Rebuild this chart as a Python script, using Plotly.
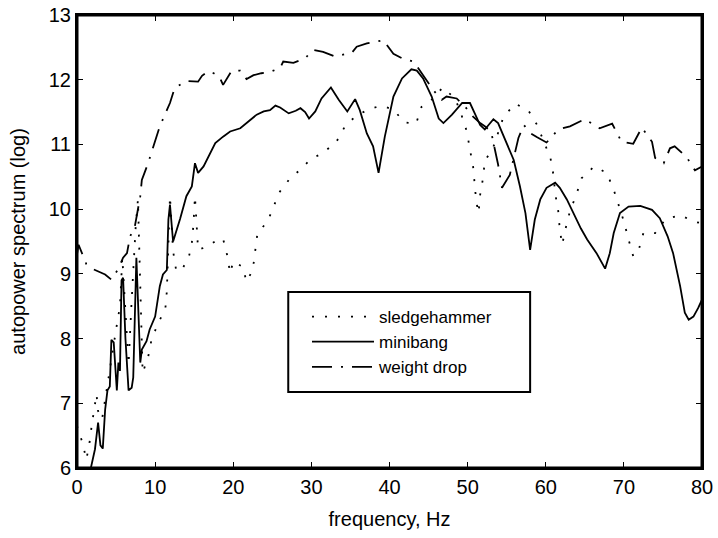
import plotly.graph_objects as go

# ---- data ----
sledge_f = [0.0, 0.7, 1.2, 1.6, 1.9, 2.2, 2.5, 2.7, 3.2, 3.8, 4.1, 4.6, 5.2, 5.5, 5.8, 6.2, 6.6, 7.0,
            7.5, 7.8, 8.1, 8.4, 9.1, 9.5, 10.3, 11.3, 11.5, 11.9, 12.3, 12.7, 13.4, 14.3, 14.7, 14.9,
            15.1, 15.5, 16.6, 18.2, 18.7, 19.2, 19.6, 20.0, 21.2, 21.7, 22.5, 22.8, 23.1, 24.4, 25.1,
            25.9, 27.3, 28.5, 29.9, 31.5, 33.2, 34.3, 35.7, 37.3, 38.9, 40.5, 41.9, 43.4, 44.1, 45.6,
            46.8, 48.4, 49.2, 49.9, 50.3, 50.7, 51.1, 51.4, 51.6, 52.0, 52.2, 53.1, 54.6, 56.1, 57.8,
            58.9, 60.6, 61.0, 61.2, 61.6, 61.8, 62.1, 62.5, 63.1, 63.9, 64.6, 66.2, 67.8, 68.7, 69.3,
            70.0, 70.6, 71.2, 71.9, 72.5, 74.0, 75.3, 77.2, 78.9, 80.0]
sledge_v = [6.65, 6.39, 6.13, 6.39, 6.67, 6.93, 7.14, 6.88, 6.75, 7.21, 7.47, 7.83, 8.29, 8.5, 9.25, 8.4, 7.6, 8.6,
            9.7, 10.15, 8.6, 7.47, 7.71, 7.96, 8.22, 8.45, 8.73, 10.2, 9.35, 9.05, 9.06, 9.25, 9.48, 9.76,
            10.2, 9.37, 9.42, 9.54, 9.54, 9.3, 9.01, 9.19, 9.11, 8.88, 9.06, 9.35, 9.63, 9.81, 10.03,
            10.26, 10.48, 10.6, 10.77, 10.87, 11.04, 11.28, 11.44, 11.54, 11.6, 11.54, 11.34, 11.32, 11.58, 11.71,
            11.88, 11.71, 11.46, 11.2, 10.92, 10.66, 10.12, 9.94, 10.22, 10.5, 10.76, 10.89, 11.43, 11.63, 11.52,
            11.3, 10.79, 10.52, 10.25, 9.97, 9.68, 9.45, 9.68, 9.97, 10.22, 10.48, 10.66, 10.56, 10.3, 10.07,
            9.81, 9.53, 9.27, 9.37, 9.63, 9.63, 9.84, 9.91, 9.81, 9.78]

mini_f = [1.5, 1.9, 2.3, 2.7, 3.0, 3.3, 3.6, 3.9, 4.2, 4.4, 4.7, 5.1, 5.3, 5.5, 5.7, 5.9, 6.2, 6.6, 7.0,
          7.2, 7.6, 8.1, 8.3, 8.9, 9.3, 10.0, 10.6, 11.0, 11.5, 11.7, 11.9, 12.3, 13.2, 14.0, 14.7, 15.1,
          15.5, 16.2, 16.8, 17.7, 18.7, 19.6, 20.9, 21.7, 23.0, 23.9, 24.7, 25.4, 26.0, 27.1, 28.0, 28.6,
          29.2, 29.7, 30.5, 31.3, 32.5, 33.5, 34.6, 35.6, 36.2, 37.1, 37.9, 38.6, 39.4, 40.5, 41.6, 42.8,
          43.5, 44.3, 45.4, 46.3, 46.9, 48.0, 49.3, 50.3, 51.6, 52.2, 53.3, 53.9, 55.0, 55.9, 56.7, 57.4,
          58.0, 58.6, 59.3, 60.1, 61.2, 61.8, 62.7, 63.5, 64.5, 65.3, 66.5, 67.6, 68.2, 68.7, 69.5, 70.6,
          72.1, 73.6, 74.6, 75.6, 76.3, 77.2, 77.8, 78.3, 78.9, 79.5, 80.0]
mini_v = [5.85, 6.1, 6.29, 6.7, 6.35, 6.3, 6.9, 7.2, 7.26, 7.98, 7.94, 7.2, 7.63, 7.5, 8.9, 8.94, 8.0, 7.2, 7.24,
          7.4, 9.25, 7.63, 7.83, 7.96, 8.14, 8.34, 8.81, 8.99, 9.06, 9.84, 10.07, 9.5, 9.85, 10.2, 10.35, 10.71,
          10.56, 10.66, 10.81, 11.02, 11.12, 11.2, 11.25, 11.33, 11.46, 11.51, 11.53, 11.6, 11.57, 11.48, 11.52, 11.56,
          11.5, 11.4, 11.51, 11.71, 11.88, 11.69, 11.51, 11.7, 11.53, 11.17, 10.97, 10.56, 11.12, 11.74, 12.02, 12.16,
          12.14, 12.02, 11.74, 11.4, 11.33, 11.46, 11.64, 11.64, 11.3, 11.23, 11.39, 11.33, 11.02, 10.76, 10.35, 9.94,
          9.37, 9.84, 10.15, 10.33, 10.41, 10.33, 10.15, 9.94, 9.7, 9.53, 9.32, 9.08, 9.32, 9.63, 9.94, 10.04,
          10.05, 9.99, 9.86, 9.58, 9.32, 8.81, 8.4, 8.29, 8.34, 8.47, 8.6]

drop_f = [0.0, 0.2, 0.8, 1.2, 2.1, 3.6, 4.4, 5.3, 5.9, 6.4, 6.8, 7.4, 8.1, 8.3, 9.1, 10.0, 10.6, 11.5, 11.9,
          12.5, 14.0, 15.5, 16.0, 16.8, 17.5, 18.2, 18.7, 19.8, 20.9, 21.7, 22.6, 23.6, 24.7, 26.0, 26.4,
          27.7, 29.2, 30.2, 31.5, 33.0, 35.2, 35.8, 37.1, 39.2, 40.5, 41.8, 43.1, 44.3, 45.6, 46.7, 47.3,
          48.6, 49.7, 50.7, 51.6, 52.2, 53.0, 53.9, 54.4, 55.4, 55.9, 56.5, 57.2, 58.1, 58.9, 60.1, 61.6,
          63.1, 65.0, 66.9, 68.5, 69.7, 71.2, 72.3, 73.6, 74.0, 75.1, 75.9, 76.5, 78.0, 79.1, 80.0]
drop_v = [9.3, 9.45, 9.27, 9.15, 9.07, 8.99, 8.91, 9.08, 9.25, 9.32, 9.58, 9.73, 10.2, 10.45, 10.71, 11.07, 11.28, 11.53, 11.64,
          11.87, 11.98, 11.97, 12.06, 12.13, 12.1, 12.05, 11.92, 12.14, 12.14, 12.01, 12.07, 12.1, 12.12, 12.18, 12.28,
          12.26, 12.33, 12.46, 12.43, 12.36, 12.42, 12.51, 12.56, 12.61, 12.4, 12.32, 12.28, 12.07, 11.84, 11.69, 11.74,
          11.71, 11.58, 11.43, 11.33, 11.28, 11.2, 10.69, 10.33, 10.53, 10.81, 11.1, 11.3, 11.17, 11.11, 11.03, 11.23,
          11.28, 11.39, 11.25, 11.32, 11.04, 11.01, 11.26, 11.04, 10.79, 10.71, 10.94, 10.97, 10.81, 10.6, 10.66]

x_ticks = [0, 10, 20, 30, 40, 50, 60, 70, 80]
y_ticks = [6, 7, 8, 9, 10, 11, 12, 13]

FONT = "Liberation Sans, Arial, sans-serif"

fig = go.Figure()
fig.add_trace(go.Scatter(x=sledge_f, y=sledge_v, mode="lines", name="sledgehammer",
                         line=dict(color="black", width=1.8, dash="2px,11px")))
fig.add_trace(go.Scatter(x=mini_f, y=mini_v, mode="lines", name="minibang",
                         line=dict(color="black", width=1.8)))
fig.add_trace(go.Scatter(x=drop_f, y=drop_v, mode="lines", name="weight drop",
                         line=dict(color="black", width=1.8, dash="20px,9px,2px,9px")))

axis_common = dict(showgrid=False, zeroline=False, showline=True, linecolor="black", linewidth=2,
                   mirror="ticks", ticks="inside", ticklen=6, tickwidth=1, tickcolor="black",
                   automargin=False,
                   tickfont=dict(family=FONT, size=20, color="black"))

fig.update_xaxes(range=[0, 80], tickvals=x_ticks, ticktext=[str(t) for t in x_ticks],
                 title=dict(text="frequency, Hz", font=dict(family=FONT, size=20, color="black"), standoff=15),
                 **axis_common)
fig.update_yaxes(range=[6, 13], tickvals=y_ticks, ticktext=[str(t) for t in y_ticks],
                 title=dict(text="autopower spectrum (log)", font=dict(family=FONT, size=20, color="black"), standoff=18),
                 **axis_common)

# axes frame (box round the plot area)
fig.add_shape(type="rect", xref="paper", yref="paper", x0=0, x1=1, y0=0, y1=1,
              line=dict(color="black", width=3), fillcolor="rgba(0,0,0,0)", layer="above")
# legend frame
fig.add_shape(type="rect", xref="paper", yref="paper", x0=0.338, x1=0.725, y0=0.168, y1=0.3885,
              line=dict(color="black", width=2), fillcolor="white", layer="below")

fig.update_layout(
    width=718, height=538,
    margin=dict(l=77, r=16, t=15, b=70, autoexpand=False),
    paper_bgcolor="white", plot_bgcolor="white",
    font=dict(family=FONT, size=20, color="black"),
    hovermode=False,
    showlegend=True,
    legend=dict(x=0.368, y=0.278, xanchor="left", yanchor="middle", bgcolor="rgba(0,0,0,0)",
                borderwidth=0, font=dict(family=FONT, size=17, color="black"), itemwidth=62,
                tracegroupgap=0),
)

# remove the default 8px page margin so the figure sits at the window's top-left corner
fig.write_html("out.html", config={"displayModeBar": False},
               post_script="document.body.style.margin='0';")
